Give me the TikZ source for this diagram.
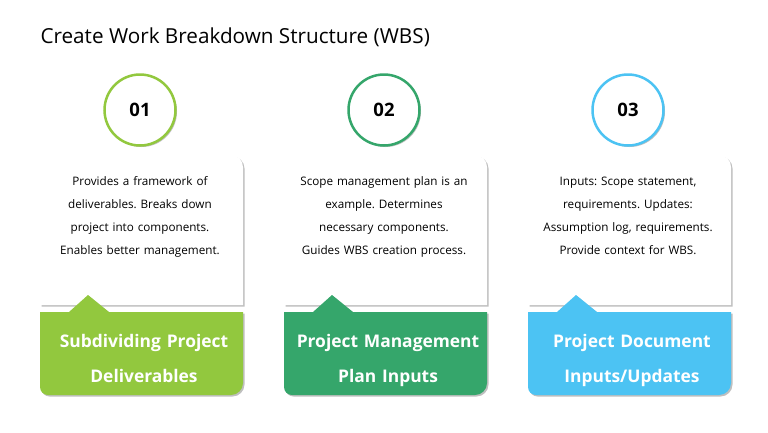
\documentclass[tikz,border=0pt]{standalone}
\usepackage{fontspec}
\setmainfont{Open Sans}
\usetikzlibrary{shadows}
\definecolor{wbsgreen}{HTML}{92C83E}
\definecolor{wbsteal}{HTML}{35A66B}
\definecolor{wbsblue}{HTML}{4CC3F3}
\tikzset{
  softshadow/.style={drop shadow={shadow xshift=1.5pt, shadow yshift=-1.5pt, opacity=.25, fill=black}},
  numcircle/.style={circle, draw=#1, line width=2.5pt, fill=white, minimum size=71pt, inner sep=0pt, softshadow, font=\fontsize{18.5}{22}\selectfont\bfseries},
  bodytext/.style={align=center, text width=200pt, font=\fontsize{11.7}{23}\selectfont},
  labeltext/.style={align=center, text width=200pt, text=white, font=\fontsize{17.4}{35}\selectfont\bfseries}
}
\newcommand{\wbscard}[6]{
  \fill[white, softshadow] (#2,305) -- (#2,155) -- (#2+191,155) arc[start angle=-90, end angle=0, radius=12] -- (#2+203,305) -- cycle;
  \fill[#3, softshadow] (#2,312) -- (#2+29,312) -- (#2+48,295) -- (#2+69,312) -- (#2+203,312) -- (#2+203,383) arc[start angle=0, end angle=90, radius=12] -- (#2+8,395) arc[start angle=90, end angle=180, radius=8] -- cycle;
  \node[numcircle=#3] (num#1) at (#2+100,110) {#4};
  \node[bodytext] (body#1) at (#2+100,215) {#5};
  \node[labeltext] (label#1) at (#2+104,357.5) {#6};
}

\begin{document}
\frenchspacing
\begin{tikzpicture}[x=1pt, y=-1pt]
  \useasboundingbox (0,0) rectangle (768,432);
  \node[anchor=west, font=\fontsize{20.7}{24}\selectfont] (title) at (37,37) {Create Work Breakdown Structure (WBS)};

  \wbscard{a}{40}{wbsgreen}{01}{\strut Provides a framework of\\ deliverables. Breaks down\\ project into components.\\ Enables better management.\strut}{\strut Subdividing Project\\ Deliverables\strut}
  \wbscard{b}{284}{wbsteal}{02}{\strut Scope management plan is an\\ example. Determines\\ necessary components.\\ Guides WBS creation process.\strut}{\strut Project Management\\ Plan Inputs\strut}
  \wbscard{c}{528}{wbsblue}{03}{\strut Inputs: Scope statement,\\ requirements. Updates:\\ Assumption log, requirements.\\ Provide context for WBS.\strut}{\strut Project Document\\ Inputs/Updates\strut}
\end{tikzpicture}
\end{document}
